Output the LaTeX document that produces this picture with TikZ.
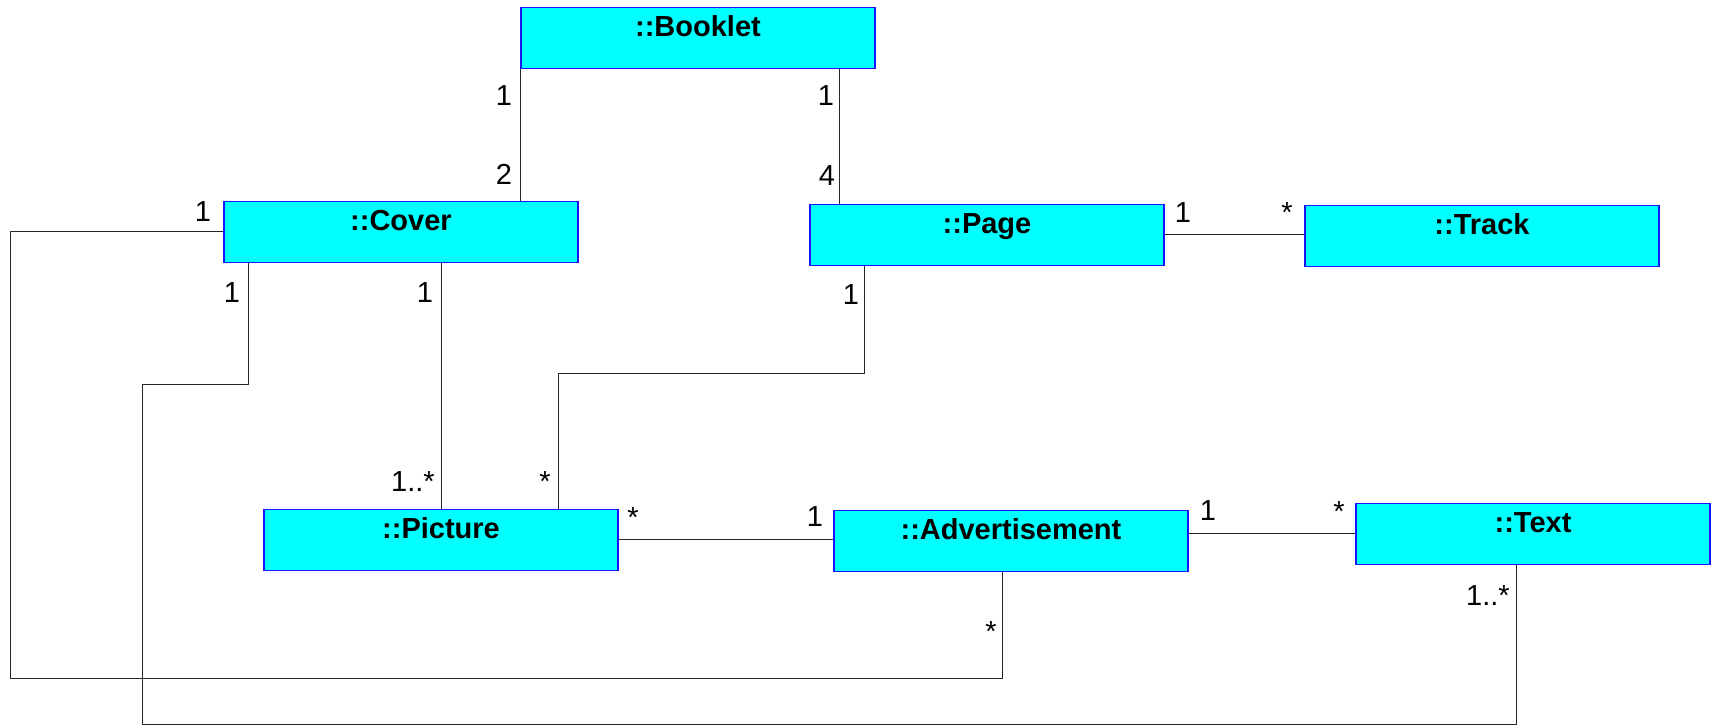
\documentclass[tikz,border=0pt]{standalone}
\usepackage{fontspec}
\setmainfont{Liberation Sans}
\usetikzlibrary{calc}
\definecolor{klassefill}{RGB}{0,255,255}
\definecolor{klasseline}{RGB}{20,20,255}

\begin{document}
\begin{tikzpicture}[x=0.5pt, y=-0.5pt,
		klasse/.style={draw=klasseline, fill=klassefill, line width=0.6pt, minimum width=177pt, text height=14.5pt, text depth=16pt, inner sep=0pt, font=\fontsize{14.5}{17}\selectfont\bfseries},
		mult/.style={anchor=base, inner sep=0pt, font=\fontsize{14.5}{17}\selectfont},
		assoc/.style={line width=0.5pt, color=black!85}]
		%%%%% START %%%%%
		
		\useasboundingbox (0, 0) rectangle (1715, 726);
		
		\node[klasse] (Booklet) at (698, 38) {::Booklet};
		\node[klasse] (Cover) at (401, 232) {::Cover};
		\node[klasse] (Page) at (987, 235) {::Page};
		\node[klasse] (Track) at (1482, 236) {::Track};
		\node[klasse] (Picture) at (441, 540) {::Picture};
		\node[klasse] (Advertisement) at (1011, 541) {::Advertisement};
		\node[klasse] (Text) at (1533, 534) {::Text};
		
		\coordinate (leftloop) at (10, 679);
		\coordinate (bottomloop) at (142, 385);
		\coordinate (pagebend) at (558, 374);
		
		\draw[assoc] (Booklet.south west) -- (Booklet.south west |- Cover.north);
		\draw[assoc] ($(Page.north west)+(30, 0)$) coordinate (pagetop) -- (pagetop |- Booklet.south);
		
		\draw[assoc] (Cover.west) -| (leftloop) -| ($(Advertisement.south west)+(169, 0)$);
		\draw[assoc] ($(Cover.south west)+(25, 0)$) |- (bottomloop) -- (bottomloop |- 0, 725) -| ($(Text.south)+(-17, 0)$);
		\draw[assoc] (Picture.north) -- (Picture.north |- Cover.south);
		\draw[assoc] ($(Page.south west)+(55, 0)$) |- (pagebend) -- (pagebend |- Picture.north);
		
		\draw[assoc] (Page.east) -- (Page.east -| Track.west);
		\draw[assoc] (Picture.east) -- (Picture.east -| Advertisement.west);
		\draw[assoc] (Text.west) -- (Text.west -| Advertisement.east);
		
		\node[mult] (m1) at (504, 106) {1};
		\node[mult] (m2) at (504, 185) {2};
		\node[mult] (m3) at (826, 106) {1};
		\node[mult] (m4) at (827, 186) {4};
		\node[mult] (m5) at (203, 222) {1};
		\node[mult] (m6) at (232, 303) {1};
		\node[mult] (m7) at (425, 303) {1};
		\node[mult] (m8) at (851, 305) {1};
		\node[mult] (m9) at (1183, 223) {1};
		\node[mult] (m10) at (1287, 223) {*};
		\node[mult] (m11) at (413, 492) {1..*};
		\node[mult] (m12) at (545, 492) {*};
		\node[mult] (m13) at (633, 528) {*};
		\node[mult] (m14) at (815, 527) {1};
		\node[mult] (m15) at (1208, 521) {1};
		\node[mult] (m16) at (1339, 522) {*};
		\node[mult] (m17) at (991, 642) {*};
		\node[mult] (m18) at (1488, 606) {1..*};
		
		%%%%% END %%%%%
\end{tikzpicture}
\end{document}
